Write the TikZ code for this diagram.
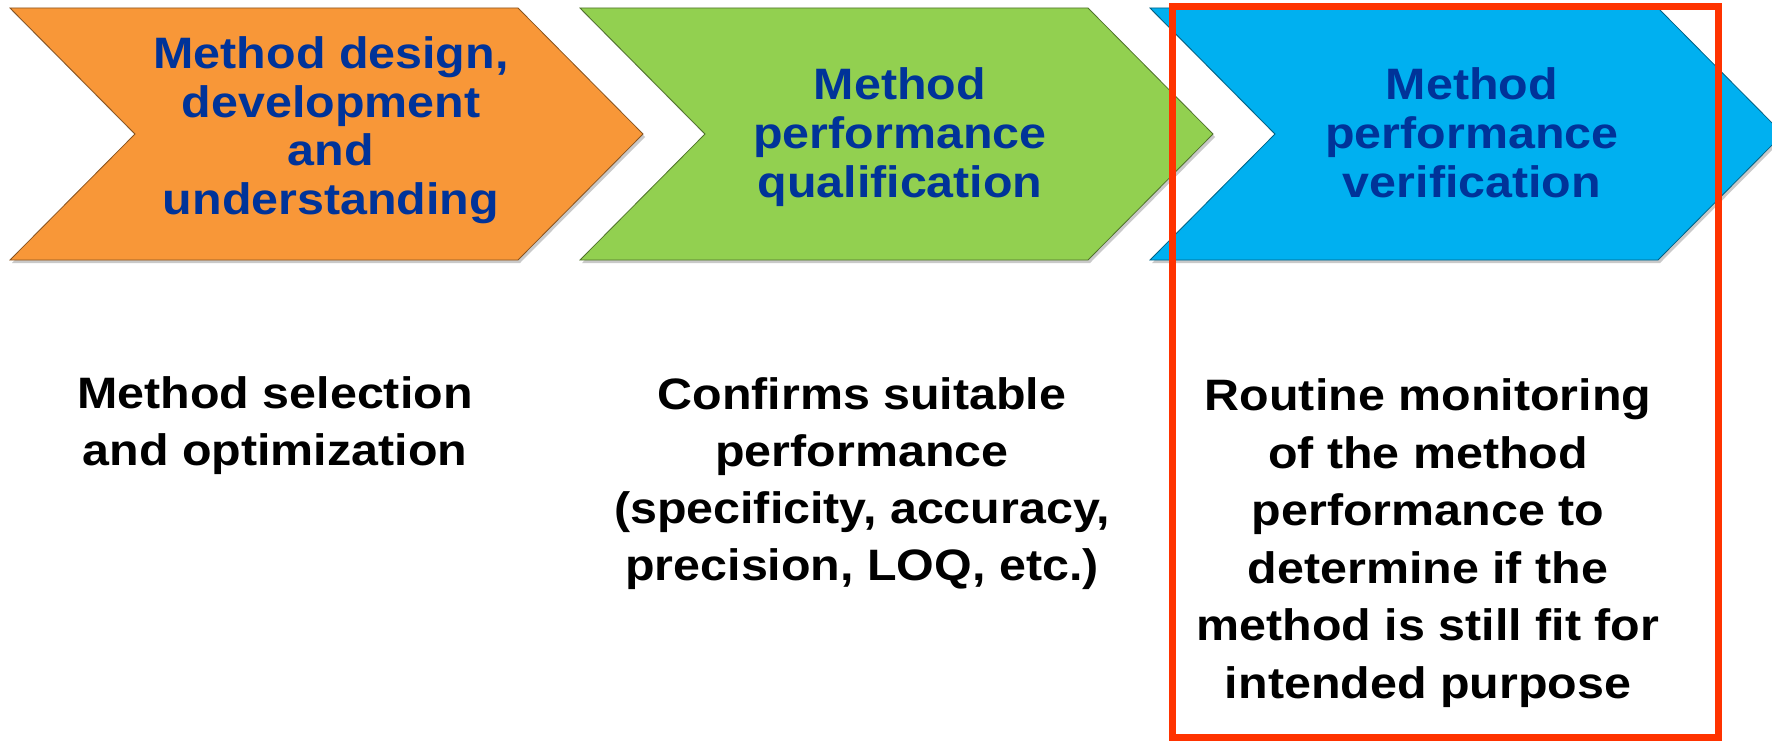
\documentclass[tikz,border=0pt]{standalone}
\usepackage{fontspec}
\setmainfont{Liberation Sans}[FakeStretch=1.1]
\usetikzlibrary{shadows}
\definecolor{corange}{RGB}{248,151,56}
\definecolor{cgreen}{RGB}{146,208,80}
\definecolor{cblue}{RGB}{0,176,240}
\definecolor{tblue}{RGB}{0,51,153}
\definecolor{cred}{RGB}{255,51,0}
\begin{document}
\begin{tikzpicture}[x=1pt,y=-1pt,
  chev/.style={draw=#1!55!black, line width=0.8pt, fill=#1,
    drop shadow={shadow xshift=2pt, shadow yshift=-3pt, opacity=0.35, fill=black!60}},
  title/.style={font=\fontsize{44}{48.6}\selectfont\bfseries, text=tblue, align=center, inner sep=0pt, anchor=base},
  desc/.style={font=\fontsize{44}{#1}\selectfont\bfseries, text=black, align=center, inner sep=0pt, anchor=base}]
\useasboundingbox (0,0) rectangle (1772,741);
\fill[white] (0,0) rectangle (1772,741);
\clip (0,0) rectangle (1772,741);
% chevrons
\path[chev=corange] (10,8) -- (518,8) -- (643,134) -- (518,260) -- (10,260) -- (135,134) -- cycle;
\path[chev=cgreen] (580,8) -- (1088,8) -- (1213,134) -- (1088,260) -- (580,260) -- (705,134) -- cycle;
\path[chev=cblue] (1150,8) -- (1658,8) -- (1783,134) -- (1658,260) -- (1150,260) -- (1275,134) -- cycle;
% titles (anchor = baseline of last line)
\node[title] (t1) at (331,214.5) {Method design,\\development\\and\\understanding};
\node[title] (t2) at (900,197) {Method\\performance\\qualification};
\node[title] (t3) at (1472,197) {Method\\performance\\verification};
% descriptions
\node[desc=57] (d1) at (275,465) {Method selection\\and optimization};
\node[desc=57] (d2) at (862,580) {Confirms suitable\\performance\\(specificity, accuracy,\\precision, LOQ, etc.)};
\node[desc=57.5] (d3) at (1428,698) {Routine monitoring\\of the method\\performance to\\determine if the\\method is still fit for\\intended purpose};
% highlight box
\draw[cred, line width=7pt] (1172,7) rectangle (1718,737);
\end{tikzpicture}
\end{document}
